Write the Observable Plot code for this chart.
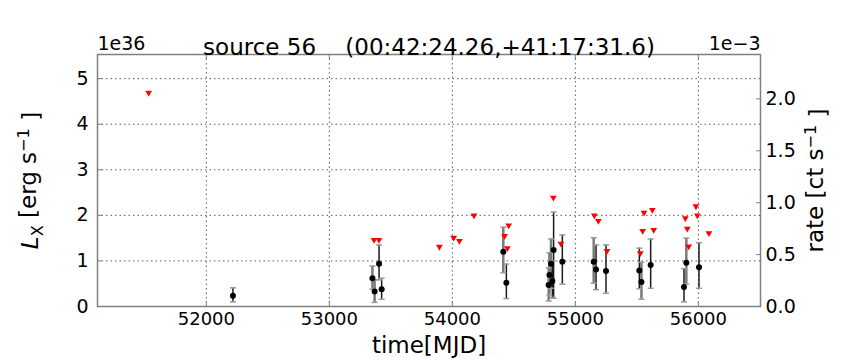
<!DOCTYPE html>
<html><head><meta charset="utf-8">
<script src="https://cdn.jsdelivr.net/npm/d3@7"></script>
<script src="https://cdn.jsdelivr.net/npm/@observablehq/plot@0.6"></script>
<style>body{margin:0;background:#fff} #chart{width:864px;height:360px}</style>
</head><body><div id="chart"></div>
<script>
// Upper limits (red down-triangles): time [MJD], L_X [1e36 erg/s]
const ulMjd = [51531, 53363, 53403, 53894, 54011, 54057, 54176, 54425, 54447, 54458, 54821, 54883,
  55154, 55187, 55257, 55528, 55547, 55558, 55626, 55637, 55894, 55910, 55921, 55980, 55992, 56086];
const ulLum = [4.69, 1.46, 1.46, 1.31, 1.51, 1.44, 2.0, 1.55, 1.28, 1.78, 2.39, 1.38,
  2.0, 1.88, 1.22, 1.17, 1.66, 2.06, 2.12, 1.68, 1.94, 1.71, 1.32, 2.2, 2.0, 1.61];
// Detections (black dots with error bars)
const detMjd = [52216, 53350, 53368, 53404, 53425, 54414, 54439, 54783, 54789, 54802, 54813, 54823,
  54894, 55149, 55168, 55249, 55520, 55537, 55612, 55883, 55902, 56005];
const detLum = [0.235, 0.62, 0.33, 0.94, 0.38, 1.2, 0.52, 0.47, 0.69, 0.94, 0.56, 1.24,
  0.98, 0.98, 0.81, 0.78, 0.79, 0.535, 0.91, 0.43, 0.96, 0.86];
const detLo = [0.10, 0.38, 0.09, 0.585, 0.16, 0.74, 0.175, 0.12, 0.25, 0.40, 0.20, 0.18,
  0.49, 0.51, 0.37, 0.29, 0.39, 0.16, 0.40, 0.10, 0.49, 0.40];
const detHi = [0.41, 0.886, 0.585, 1.35, 0.62, 1.74, 0.93, 0.85, 1.18, 1.48, 1.0, 2.07,
  1.57, 1.51, 1.35, 1.35, 1.28, 0.97, 1.48, 0.83, 1.50, 1.40];
const detStyle = ["k", "g", "g", "k", "k", "g", "k", "g", "g", "g", "k", "k",
  "k", "g", "k", "k", "k", "g", "k", "k", "g", "k"];

const xTicks = [52000, 53000, 54000, 55000, 56000];
const yTicks = [0, 1, 2, 3, 4, 5];
const gridYTicks = [1, 2, 3, 4, 5];
const rateTicks = [0, 0.5, 1.0, 1.5, 2.0];
const rateToLum = 2.278; // 1e-3 ct/s -> 1e36 erg/s
const titleText = "source 56\u00a0\u00a0\u00a0\u00a0(00:42:24.26,+41:17:31.6)";
const leftOffset = "1e36";
const rightOffset = "1e\u22123";
const xLabel = "time[MJD]";

const upper = ulMjd.map((m, i) => ({mjd: m, lum: ulLum[i]}));
const dets = detMjd.map((m, i) => ({mjd: m, lum: detLum[i], lo: detLo[i], hi: detHi[i], style: detStyle[i]}));

const capSymbol = {draw(ctx, size) { const w = 3; ctx.moveTo(-w, 0); ctx.lineTo(w, 0); }};

const plot = Plot.plot({
  width: 864, height: 360,
  marginLeft: 97, marginRight: 104, marginTop: 54, marginBottom: 54,
  style: {fontFamily: "DejaVu Sans", fontSize: "19px", background: "white", color: "black"},
  x: {domain: [51115, 56505]},
  y: {domain: [0, 5.53]},
  marks: [
    Plot.gridX(xTicks, {stroke: "#333", strokeOpacity: 0.8, strokeDasharray: "1.5,3"}),
    Plot.gridY(gridYTicks, {stroke: "#333", strokeOpacity: 0.8, strokeDasharray: "1.5,3"}),
    Plot.axisX(xTicks, {anchor: "bottom", tickSize: -5, tickFormat: () => "", label: null, stroke: "#808080"}),
    Plot.axisX(xTicks, {anchor: "top", tickSize: -5, tickFormat: () => "", label: null, stroke: "#808080"}),
    Plot.axisY(yTicks, {anchor: "left", tickSize: -5, tickFormat: () => "", label: null, stroke: "#808080"}),
    Plot.axisY(rateTicks.map(r => r * rateToLum), {anchor: "right", tickSize: -5, tickFormat: () => "", label: null, stroke: "#808080"}),
    Plot.axisX(xTicks, {anchor: "bottom", tickSize: 0, tickPadding: 6, label: null, fontSize: 18, tickFormat: d => String(d)}),
    Plot.axisY(yTicks, {anchor: "left", tickSize: 0, tickPadding: 9, label: null}),
    Plot.axisY(rateTicks.map(r => r * rateToLum), {anchor: "right", tickSize: 0, tickPadding: 5, label: null,
      tickFormat: d => (d / rateToLum).toFixed(1)}),
    Plot.frame({stroke: "#808080", strokeWidth: 1.5}),
    // error bars
    Plot.ruleX(dets.filter(d => d.style === "g"), {x: "mjd", y1: "lo", y2: "hi", stroke: "#7a7a7a", strokeWidth: 2.5}),
    Plot.ruleX(dets.filter(d => d.style === "k"), {x: "mjd", y1: "lo", y2: "hi", stroke: "#1a1a1a", strokeWidth: 1.5}),
    Plot.dot(dets, {x: "mjd", y: "lo", symbol: capSymbol, r: 3, fill: "none", stroke: "#999", strokeWidth: 1.5}),
    Plot.dot(dets, {x: "mjd", y: "hi", symbol: capSymbol, r: 3, fill: "none", stroke: "#999", strokeWidth: 1.5}),
    Plot.dot(dets, {x: "mjd", y: "lum", r: 3, fill: "black", stroke: "none"}),
    Plot.dot(upper, {x: "mjd", y: "lum", symbol: "triangle", rotate: 180, r: 2.5, fill: "red", stroke: "none"}),
    // texts
    Plot.text([titleText], {frameAnchor: "top", dy: -16, fontSize: 23, text: d => d}),
    Plot.text([leftOffset], {frameAnchor: "top-left", textAnchor: "start", lineAnchor: "bottom", dy: -5, fontSize: 19, text: d => d}),
    Plot.text([rightOffset], {frameAnchor: "top-right", textAnchor: "end", lineAnchor: "bottom", dy: -5, fontSize: 19, text: d => d}),
    Plot.text([xLabel], {frameAnchor: "bottom", lineAnchor: "middle", dy: 39, fontSize: 23, text: d => d}),
    Plot.text(["LX_LABEL"], {frameAnchor: "left", textAnchor: "middle", rotate: -90, dx: -67, fontSize: 23, text: d => d}),
    Plot.text(["RATE_LABEL"], {frameAnchor: "right", textAnchor: "middle", rotate: -90, dx: 55, fontSize: 23, text: d => d})
  ]
});

d3.select(plot).selectAll("text").each(function() {
  const t = d3.select(this);
  const s = this.textContent;
  if (s === "LX_LABEL") {
    t.text(null);
    t.append("tspan").attr("font-style", "italic").text("L");
    t.append("tspan").attr("dy", "0.3em").attr("font-size", "70%").text("X");
    t.append("tspan").attr("dy", "-0.3em").text("\u00a0[erg s");
    t.append("tspan").attr("dy", "-0.45em").attr("font-size", "70%").text("\u22121");
    t.append("tspan").attr("dy", "0.45em").text("\u00a0]");
  } else if (s === "RATE_LABEL") {
    t.text(null);
    t.append("tspan").text("rate [ct s");
    t.append("tspan").attr("dy", "-0.45em").attr("font-size", "70%").text("\u22121");
    t.append("tspan").attr("dy", "0.45em").text("\u00a0]");
  }
});

document.getElementById("chart").appendChild(plot);
</script>
</body></html>
